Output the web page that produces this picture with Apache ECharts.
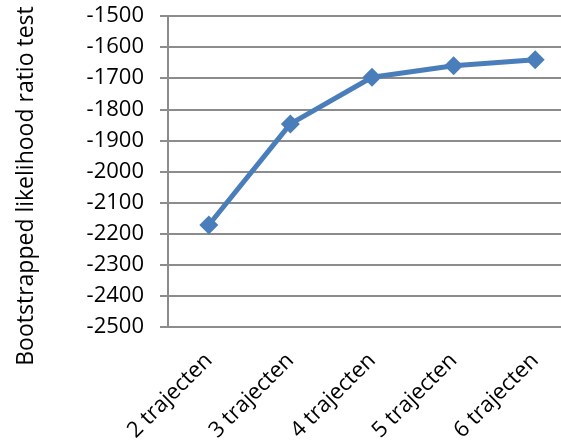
<!DOCTYPE html>
<html>
<head>
<meta charset="utf-8">
<script src="https://cdn.jsdelivr.net/npm/echarts@6/dist/echarts.min.js"></script>
<style>
  html, body { margin: 0; padding: 0; background: #fff; }
  #chart { width: 561px; height: 446px; }
</style>
</head>
<body>
<div id="chart"></div>
<script>
// categories on x
const categories = ["2 trajecten", "3 trajecten", "4 trajecten", "5 trajecten", "6 trajecten"];
// bootstrapped LRT values
const values = [-2172, -1847, -1697, -1660, -1641];
// y ticks
const yMin = -2500;
const yMax = -1500;
const yStep = 100;
const yName = "Bootstrapped likelihood ratio test";

const font = "'Open Sans', sans-serif";
const gray = "#8c8c8c";

const myChart = echarts.init(document.getElementById("chart"));
const option = {
  animation: false,
  grid: {
    left: 168,
    top: 16,
    width: 408,
    height: 311,
    outerBoundsMode: "none",
  },
  xAxis: {
    type: "category",
    data: categories,
    boundaryGap: true,
    axisLine: { show: false },
    axisTick: { show: false },
    axisLabel: {
      rotate: 45,
      margin: 30,
      fontFamily: font,
      fontSize: 22,
      color: "#000",
    },
  },
  yAxis: {
    type: "value",
    min: yMin,
    max: yMax,
    interval: yStep,
    axisLine: { show: true, lineStyle: { color: gray, width: 2 } },
    axisTick: { show: true, length: 8, lineStyle: { color: gray, width: 2 } },
    splitLine: { show: true, lineStyle: { color: gray, width: 2 } },
    axisLabel: {
      margin: 24,
      fontFamily: font,
      fontSize: 22,
      color: "#000",
      formatter: (v) => String(v),
    },
  },
  // 纵轴标题
  graphic: [
    {
      type: "text",
      x: 26,
      y: 186,
      rotation: Math.PI / 2,
      style: {
        text: yName,
        fontFamily: font,
        fontSize: 23,
        fill: "#000",
        align: "center",
        verticalAlign: "middle",
      },
    },
  ],
  series: [
    {
      type: "line",
      data: values,
      symbol: "diamond",
      symbolSize: 19,
      lineStyle: { color: "#4a7ebb", width: 5 },
      itemStyle: { color: "#4a7ebb" },
    },
  ],
};
myChart.setOption(option);
</script>
</body>
</html>
